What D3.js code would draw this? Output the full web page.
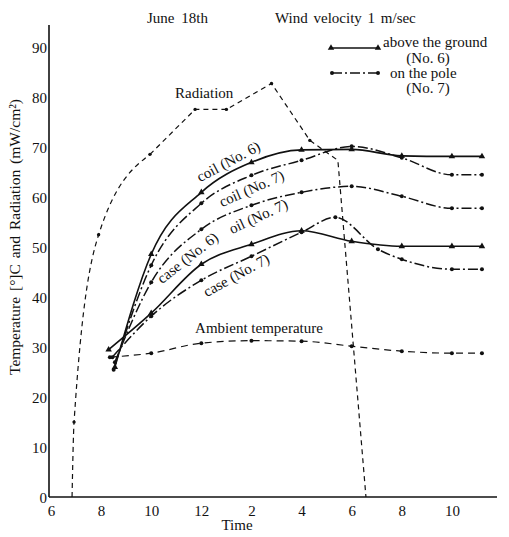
<!DOCTYPE html>
<html>
<head>
<meta charset="utf-8">
<script src="https://cdn.jsdelivr.net/npm/d3@7/dist/d3.min.js"></script>
<style>
  body { margin: 0; background: #fff; }
  svg text { font-family: "Liberation Serif", "DejaVu Serif", serif; fill: #111; }
</style>
</head>
<body>
<svg id="chart" width="509" height="537"></svg>
<script>
// time of day in hours (13 = 1 pm ...), values in degC or mW/cm2
var xTicks = [6, 8, 10, 12, 14, 16, 18, 20, 22];
var yTicks = [0, 10, 20, 30, 40, 50, 60, 70, 80, 90];

var radHours = [6.84, 6.92, 7.9, 9.95, 11.75, 13.0, 14.8, 16.33, 17.45, 18.57];
var radiation = [0, 15, 52.5, 68.6, 77.6, 77.6, 82.8, 71.4, 67.4, 0];
var radMarked = [1, 2, 3, 4, 5, 6, 7];

var ambHours = [8.35, 10, 12, 14, 16, 18, 20, 22, 23.2];
var ambient = [28, 28.8, 30.8, 31.3, 31.2, 30.2, 29.2, 28.8, 28.8];

var coil6Hours = [8.55, 10, 12, 14, 16, 18, 20, 22, 23.2];
var coil6 = [26, 48.6, 61, 67, 69.5, 69.6, 68.3, 68.2, 68.2];

var case6Hours = [8.3, 10, 12, 14, 16, 18, 20, 22, 23.2];
var case6 = [29.5, 36.8, 46.6, 50.6, 53.3, 51.2, 50.2, 50.2, 50.2];

var coil7Hours = [8.5, 10, 12, 14, 16, 18, 20, 22, 23.2];
var coil7 = [25.5, 46.4, 58.8, 64.4, 67.4, 70.2, 67.9, 64.5, 64.5];

var oil7Hours = [8.55, 10, 12, 14, 16, 18, 20, 22, 23.2];
var oil7 = [27, 43, 53.6, 58.4, 61, 62.2, 60.2, 57.8, 57.8];

var case7Hours = [8.45, 10, 12, 14, 16, 17.35, 19.05, 20, 22, 23.2];
var case7 = [28, 36.2, 43.4, 48.2, 53, 56, 49.6, 47.6, 45.6, 45.6];

// curve labels: [text, hour, value, angle]
var curveLabels = [
  ["Radiation", 10.95, 79.8, 0],
  ["Ambient temperature", 11.75, 32.8, 0],
  ["coil (No. 6)", 11.95, 63, -28],
  ["coil (No. 7)", 12.82, 58, -24],
  ["oil (No. 7)", 13.22, 52.6, -25],
  ["case (No. 6)", 10.43, 42.6, -38],
  ["case (No. 7)", 12.22, 40, -29]
];

var svg = d3.select("#chart");

var x = d3.scaleLinear().domain([6, 23.8]).range([51, 497]);
var y = d3.scaleLinear().domain([0, 94.5]).range([497, 25]);

function zip(hs, vs) {
  return hs.map(function(h, i) { return [h, vs[i]]; });
}

// axes
var xAxis = d3.axisBottom(x).tickValues(xTicks).tickSize(0).tickPadding(8)
  .tickFormat(function(h) { return h > 12 ? h - 12 : h; });
var yAxis = d3.axisLeft(y).tickValues(yTicks).tickSize(0).tickPadding(2);

var gx = svg.append("g").attr("transform", "translate(0," + y(0) + ")").call(xAxis);
var gy = svg.append("g").attr("transform", "translate(" + (x(6) - 2) + ",0)").call(yAxis);
gx.select(".domain").attr("d", "M" + (x(6) - 2) + ",0H" + x(23.8)).attr("stroke", "#111").attr("stroke-width", 1.6);
gy.select(".domain").attr("d", "M0," + y(0) + "V" + y(94.5)).attr("stroke", "#111").attr("stroke-width", 1.6);
gx.selectAll("text").attr("font-size", 15).attr("font-family", "Liberation Serif");
gy.selectAll("text").attr("font-size", 15).attr("font-family", "Liberation Serif").attr("dy", "0.35em");

// lines
var smooth = d3.line().x(function(d) { return x(d[0]); }).y(function(d) { return y(d[1]); })
  .curve(d3.curveMonotoneX);
var straight = d3.line().x(function(d) { return x(d[0]); }).y(function(d) { return y(d[1]); });

var radPts = zip(radHours, radiation);
svg.append("path").attr("d", smooth(radPts.slice(0, 4)))
  .attr("fill", "none").attr("stroke", "#111").attr("stroke-width", 1.2).attr("stroke-dasharray", "5,4");
svg.append("path").attr("d", straight(radPts.slice(3)))
  .attr("fill", "none").attr("stroke", "#111").attr("stroke-width", 1.2).attr("stroke-dasharray", "5,4");
svg.selectAll(".radDot").data(radMarked.map(function(i) { return radPts[i]; }))
  .enter().append("circle")
  .attr("cx", function(d) { return x(d[0]); }).attr("cy", function(d) { return y(d[1]); })
  .attr("r", 1.7).attr("fill", "#111");

var series = [
  {pts: zip(ambHours, ambient), dash: "7,5", width: 1.2, mark: "dot"},
  {pts: zip(coil6Hours, coil6), dash: null, width: 1.6, mark: "tri"},
  {pts: zip(case6Hours, case6), dash: null, width: 1.6, mark: "tri"},
  {pts: zip(coil7Hours, coil7), dash: "10,3,2,3", width: 1.5, mark: "dot"},
  {pts: zip(oil7Hours, oil7), dash: "10,3,2,3", width: 1.5, mark: "dot"},
  {pts: zip(case7Hours, case7), dash: "10,3,2,3", width: 1.5, mark: "dot"}
];

var tri = d3.symbol().type(d3.symbolTriangle).size(18);

series.forEach(function(s) {
  svg.append("path").attr("d", smooth(s.pts))
    .attr("fill", "none").attr("stroke", "#111").attr("stroke-width", s.width)
    .attr("stroke-dasharray", s.dash);
  if (s.mark == "tri") {
    svg.append("g").selectAll("path").data(s.pts).enter().append("path")
      .attr("d", tri)
      .attr("transform", function(d) { return "translate(" + x(d[0]) + "," + y(d[1]) + ")"; })
      .attr("fill", "#111");
  } else {
    svg.append("g").selectAll("circle").data(s.pts).enter().append("circle")
      .attr("cx", function(d) { return x(d[0]); }).attr("cy", function(d) { return y(d[1]); })
      .attr("r", 2).attr("fill", "#111");
  }
});

// curve labels
svg.selectAll(".clab").data(curveLabels).enter().append("text")
  .attr("transform", function(d) { return "translate(" + x(d[1]) + "," + y(d[2]) + ") rotate(" + d[3] + ")"; })
  .attr("font-size", 15)
  .text(function(d) { return d[0]; });

// titles
svg.append("text").attr("x", 147).attr("y", 23).attr("font-size", 15).attr("word-spacing", 3).text("June 18th");
svg.append("text").attr("x", 275).attr("y", 23).attr("font-size", 15).attr("word-spacing", 2).text("Wind velocity 1 m/sec");
svg.append("text").attr("x", 237).attr("y", 530).attr("font-size", 15).attr("text-anchor", "middle").text("Time");
svg.append("text").attr("transform", "translate(20,237) rotate(-90)")
  .attr("font-size", 15.5).attr("text-anchor", "middle").attr("word-spacing", 2)
  .text("Temperature [°]C and Radiation (mW/cm²)");

// legend
var legend = svg.append("g");
legend.append("line").attr("x1", 331).attr("x2", 378).attr("y1", 48).attr("y2", 48)
  .attr("stroke", "#111").attr("stroke-width", 1.6);
[331, 378].forEach(function(px) {
  legend.append("path").attr("d", tri).attr("transform", "translate(" + px + ",48)").attr("fill", "#111");
});
legend.append("line").attr("x1", 332).attr("x2", 378).attr("y1", 73).attr("y2", 73)
  .attr("stroke", "#111").attr("stroke-width", 1.5).attr("stroke-dasharray", "10,3,2,3");
[332, 378].forEach(function(px) {
  legend.append("circle").attr("cx", px).attr("cy", 73).attr("r", 2).attr("fill", "#111");
});
legend.append("text").attr("x", 383).attr("y", 47).attr("font-size", 15).text("above the ground");
legend.append("text").attr("x", 428).attr("y", 63).attr("font-size", 15).attr("text-anchor", "middle").text("(No. 6)");
legend.append("text").attr("x", 390).attr("y", 78).attr("font-size", 15).text("on the pole");
legend.append("text").attr("x", 428).attr("y", 93).attr("font-size", 15).attr("text-anchor", "middle").text("(No. 7)");
</script>
</body>
</html>
